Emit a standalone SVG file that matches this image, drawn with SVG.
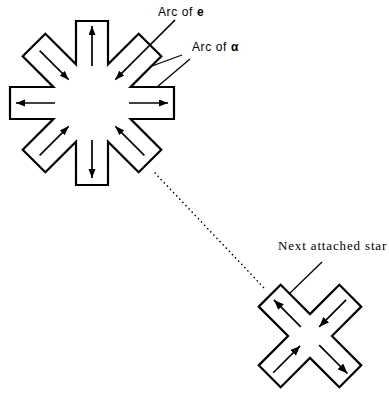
<svg xmlns="http://www.w3.org/2000/svg" width="389" height="395" viewBox="0 0 389 395">
<style>
.star{fill:#fff;stroke:#000;stroke-width:2.2;stroke-linejoin:miter}
.arr{stroke:#000;stroke-width:1.7;fill:none}
.big{marker-end:url(#hb)}
.sm{marker-end:url(#hs)}
.lead{stroke:#000;stroke-width:1.3;fill:none}
.dots{stroke:#000;stroke-width:1.6;stroke-linecap:round;stroke-dasharray:0.1 4.4;fill:none}
.lab{font-family:"Liberation Sans",Arial,sans-serif;font-size:12px;letter-spacing:0.6px;fill:#000}
.lab2{font-family:"Liberation Serif","Times New Roman",serif;font-size:13px;letter-spacing:0.85px;fill:#000}
</style>
<defs>
<marker id="hb" markerUnits="userSpaceOnUse" markerWidth="10" markerHeight="8" refX="9" refY="3.5" orient="auto"><path d="M0,0 L9,3.5 L0,7 z" fill="#000"/></marker>
<marker id="hs" markerUnits="userSpaceOnUse" markerWidth="12" markerHeight="9" refX="10" refY="4" orient="auto"><path d="M0,0 L10,4 L0,8 z" fill="#000"/></marker>
</defs>
<rect width="389" height="395" fill="#fff"/>
<g id="connectors">
<line class="dots" x1="155" y1="173" x2="266" y2="290"/>
<line class="lead" x1="182" y1="55" x2="152" y2="66"/>
<line class="lead" x1="190" y1="59" x2="157" y2="87"/>
<line class="lead" x1="322" y1="262" x2="289.5" y2="293.5"/>
</g>
<g id="big-star">
<polygon class="star" points="76,21 108,21 108,64.37 138.67,33.71 161.29,56.33 130.63,87 174,87 174,119 130.63,119 161.29,149.67 138.67,172.29 108,141.63 108,185 76,185 76,141.63 45.33,172.29 22.71,149.67 53.37,119 10,119 10,87 53.37,87 22.71,56.33 45.33,33.71 76,64.37"/>
<line class="arr big" x1="92" y1="66" x2="92" y2="26"/>
<line class="arr big" x1="129" y1="103" x2="168" y2="103"/>
<line class="arr big" x1="92" y1="140" x2="92" y2="178"/>
<line class="arr big" x1="55" y1="103" x2="16" y2="103"/>
<line class="arr big" x1="39.67" y1="50.67" x2="68.67" y2="79.67"/>
<line class="arr big" x1="39.67" y1="155.33" x2="68.67" y2="126.33"/>
<line class="arr big" x1="144.33" y1="155.33" x2="115.33" y2="126.33"/>
<line class="arr big" x1="175" y1="20" x2="115.33" y2="79.67"/>
</g>
<g id="small-star">
<polygon class="star" points="258.73,306.65 280.65,284.73 310,314.08 339.35,284.73 361.27,306.65 331.92,336 361.27,365.35 339.35,387.27 310,357.92 280.65,387.27 258.73,365.35 288.08,336"/>
<line class="arr sm" x1="300.81" y1="326.81" x2="273.94" y2="299.94"/>
<line class="arr sm" x1="346.06" y1="299.94" x2="319.19" y2="326.81"/>
<line class="arr sm" x1="319.19" y1="345.19" x2="347.48" y2="373.48"/>
<line class="arr sm" x1="273.23" y1="372.77" x2="300.1" y2="345.9"/>
</g>
<g id="labels">
<text class="lab" x="158" y="16">Arc of <tspan font-weight="bold">e</tspan></text>
<text class="lab" x="192" y="51">Arc of <tspan font-weight="bold">α</tspan></text>
<text class="lab2" x="278" y="250">Next attached star</text>
</g>
</svg>
